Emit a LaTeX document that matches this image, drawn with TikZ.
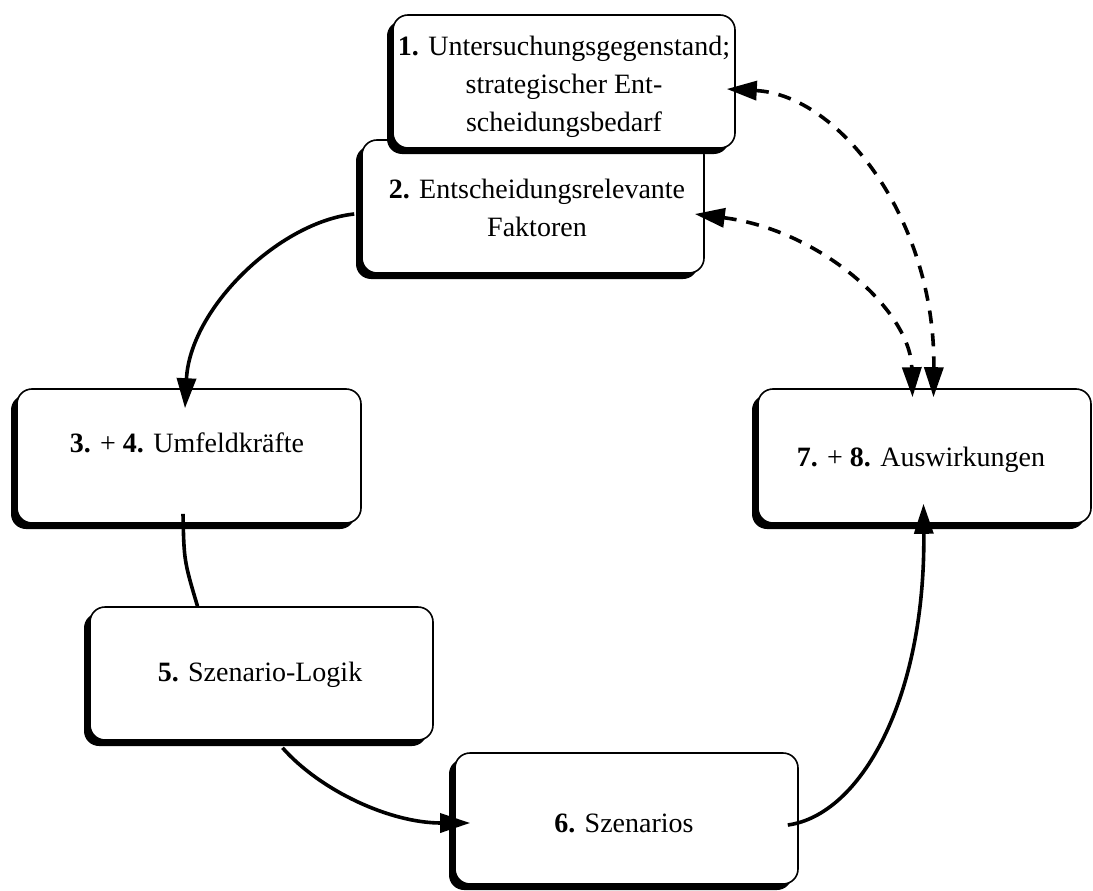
\documentclass[tikz,border=0pt]{standalone}
\usepackage{fontspec}
\setmainfont{Liberation Serif}
\usetikzlibrary{arrows.meta,shadows,calc}

\tikzset{
  tip/.tip={Triangle[length=30pt, width=19pt]},
  stepbox/.style={draw, line width=1.6pt, rounded corners=15pt, fill=white,
    inner sep=0pt,
    drop shadow={shadow xshift=-6pt, shadow yshift=-6pt, opacity=1, fill=black}},
  boxtext/.style={align=center, inner sep=0pt,
    font=\fontsize{28}{38}\selectfont},
  flow/.style={line width=3.6pt, -tip},
  plainflow/.style={line width=3.6pt},
  feedback/.style={line width=3.6pt, dash pattern=on 13pt off 10pt, tip-tip}
}

\begin{document}
\begin{tikzpicture}[x=1pt,y=-1pt]
\useasboundingbox (0,0) rectangle (1093,891);

% process boxes (box 2 first, box 1 overlaps it)
\node[stepbox, minimum width=342pt, minimum height=133pt] (b2) at (533,206.5) {};
\node[stepbox, minimum width=342pt, minimum height=133pt] (b1) at (564,81.5) {};
\node[stepbox, minimum width=344pt, minimum height=134pt] (b3) at (189,456) {};
\node[stepbox, minimum width=343pt, minimum height=133pt] (b5) at (261.5,673.5) {};
\node[stepbox, minimum width=343pt, minimum height=131pt] (b6) at (626.5,818.5) {};
\node[stepbox, minimum width=333pt, minimum height=134pt] (b7) at (924.5,456) {};

% box labels
\node[boxtext] (t1) at (564,87) {\textbf{1.} Untersuchungsgegenstand;\\strategischer Ent-\\scheidungsbedarf};
\node[boxtext] (t2) at (537,208) {\textbf{2.} Entscheidungsrelevante\\Faktoren};
\node[boxtext] (t3) at (187,443) {\textbf{3.} + \textbf{4.} Umfeldkräfte};
\node[boxtext] (t5) at (260,675) {\textbf{5.} Szenario-Logik};
\node[boxtext] (t6) at (624,823) {\textbf{6.} Szenarios};
\node[boxtext] (t7) at (921,460) {\textbf{7.} + \textbf{8.} Auswirkungen};

% main cycle
\draw[flow] ($(b2.west)+(-7,7.5)$) .. controls +(-75,8) and +(5,-100) .. ($(b3.north)+(-4,20)$);
\draw[plainflow] ($(b3.south)+(-6,-10)$) .. controls +(1,47) .. ($(b5.north)+(-64,0)$);
\draw[flow] ($(b5.south)+(21,7)$) .. controls +(38,43) and +(-80,0) .. ($(b6.west)+(16,4.5)$);
\draw[flow] ($(b6.east)+(-11,6.5)$) .. controls +(73,-10) and +(2,195) .. ($(b7.south)+(-1,-20)$);

% feedback from the impacts
\draw[feedback] ($(b2.east)+(-10,7.5)$) .. controls +(125,16) and +(-2,-87) .. ($(b7.north)+(-12,9)$);
\draw[feedback] ($(b1.east)+(-9,7.5)$) .. controls +(113,6) and +(2,-177) .. ($(b7.north)+(9,9)$);
\end{tikzpicture}
\end{document}
